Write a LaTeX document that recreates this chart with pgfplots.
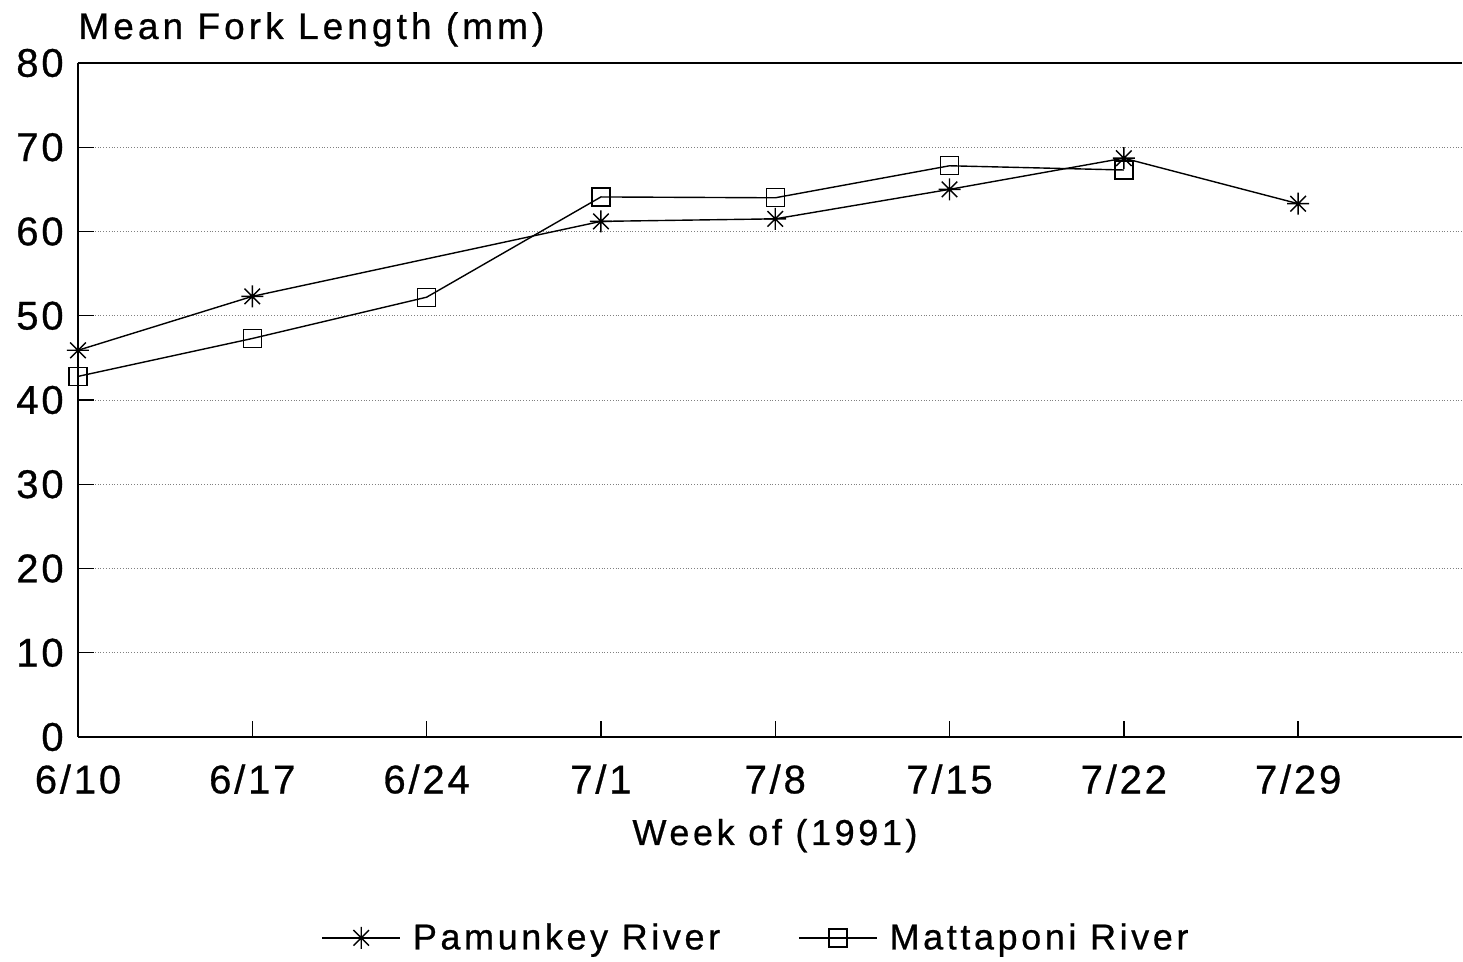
\documentclass[border=0pt]{standalone}
\usepackage{pgfplots}
\pgfplotsset{compat=1.18}
\usepackage{fontspec}
\setmainfont{Liberation Sans}[LetterSpace=10, FakeBold=0.7]
\newfontfamily\tickfont{Liberation Sans}[LetterSpace=7, FakeBold=0.7]
\newfontfamily\titlefont{Liberation Sans}[LetterSpace=11, FakeBold=0.7]
\usetikzlibrary{plotmarks}
\pgfdeclareplotmark{star8}{%
  \pgfpathmoveto{\pgfqpoint{0pt}{\pgfplotmarksize}}\pgfpathlineto{\pgfqpoint{0pt}{-\pgfplotmarksize}}%
  \pgfpathmoveto{\pgfqpoint{\pgfplotmarksize}{0pt}}\pgfpathlineto{\pgfqpoint{-\pgfplotmarksize}{0pt}}%
  \pgfpathmoveto{\pgfqpoint{0.707\pgfplotmarksize}{0.707\pgfplotmarksize}}\pgfpathlineto{\pgfqpoint{-0.707\pgfplotmarksize}{-0.707\pgfplotmarksize}}%
  \pgfpathmoveto{\pgfqpoint{0.707\pgfplotmarksize}{-0.707\pgfplotmarksize}}\pgfpathlineto{\pgfqpoint{-0.707\pgfplotmarksize}{0.707\pgfplotmarksize}}%
  \pgfusepathqstroke}
\begin{document}
\begin{tikzpicture}
\useasboundingbox (-39pt,-112.5pt) rectangle (692.5pt,368.5pt);
\begin{axis}[
  scale only axis, width=692pt, height=337pt,
  xmin=0, xmax=7.94, ymin=0, ymax=80,
  axis x line*=bottom, axis y line*=left,
  axis line style={-, line width=0.8pt},
  xtick={0,...,7},
  xticklabels={6/10,6/17,6/24,7/1,7/8,7/15,7/22,7/29},
  ytick={0,10,...,80},
  yticklabels={0,10,20,30,40,50,60,70,80},
  tick align=inside, major tick length=8pt,
  tick style={black, line width=0.7pt},
  ymajorgrids,
  grid style={densely dotted, gray, line width=0.4pt},
  ticklabel style={font=\tickfont\fontsize{20}{23}\selectfont},
  yticklabel style={anchor=east, inner sep=0pt, xshift=-7pt},
  xticklabel style={anchor=north, inner sep=0pt, yshift=-13.5pt},
  legend style={at={(0.5,-0.298)}, anchor=center, xshift=-6.5pt, draw=none,
    font=\fontsize{18}{21}\selectfont, legend columns=2,
    /tikz/every odd column/.append style={column sep=4pt},
    /tikz/every even column/.append style={column sep=37pt},
    cells={anchor=west}},
  legend image code/.code={\draw[#1, mark repeat=2, mark phase=2] plot coordinates {(0pt,0pt) (19.5pt,0pt) (39pt,0pt)};},
  clip=false,
]
\addplot[black, line width=0.7pt, mark=star8, mark size=5.5pt, mark options={line width=0.7pt}]
  coordinates {(0,45.9) (1,52.3) (3,61.2) (4,61.5) (5,65.0) (6,68.7) (7,63.3)};
\addlegendentry{Pamunkey River}
\addplot[black, line width=0.7pt, mark=square, mark size=4.5pt, mark options={line width=0.7pt}]
  coordinates {(0,42.8) (1,47.3) (2,52.2) (3,64.1) (4,64.0) (5,67.8) (6,67.3)};
\addlegendentry{Mattaponi River}
\draw[line width=0.8pt] (rel axis cs:0,1) -- (rel axis cs:1,1);
\node[anchor=base west, inner sep=0pt, font=\titlefont\fontsize{18.5}{21}\selectfont] at (rel axis cs:0,1) [yshift=12pt] {Mean Fork Length (mm)};
\node[anchor=base, inner sep=0pt, font=\fontsize{18}{21}\selectfont] at (rel axis cs:0.5,0) [xshift=2.5pt, yshift=-54pt] {Week of (1991)};
\end{axis}
\end{tikzpicture}
\end{document}
